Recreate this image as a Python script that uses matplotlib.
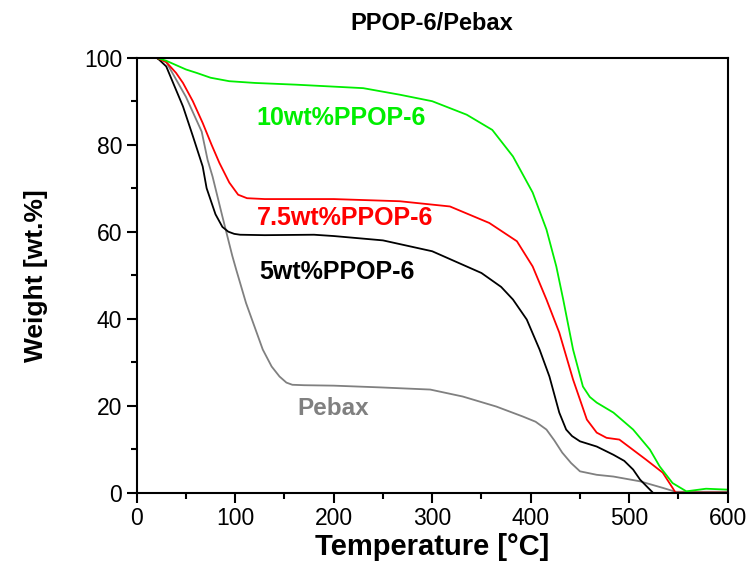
import matplotlib.pyplot as plt
from matplotlib.ticker import MultipleLocator

plt.rcParams['font.family'] = ['Liberation Sans', 'DejaVu Sans']

pebax_t = [20, 30, 42, 50, 60, 66, 72, 77, 87, 97, 101, 111, 128, 137, 145, 152, 158, 170, 200, 247, 298, 331, 365, 392, 405, 416, 424, 432, 441, 450, 467, 484, 511, 534, 547, 570, 600]
pebax_w = [100, 99, 94.2, 91, 86, 83, 76.5, 72.7, 63.5, 54.5, 51.3, 43.6, 32.9, 29, 26.7, 25.3, 24.8, 24.7, 24.6, 24.2, 23.7, 22.1, 19.8, 17.5, 16.3, 14.5, 12, 9.2, 6.8, 4.9, 4.1, 3.7, 2.6, 1.1, 0.2, 0.2, 0.2]

w5_t = [20, 23, 30, 37, 47, 57, 62, 67, 71, 80, 87, 93, 99, 105, 130, 180, 200, 250, 300, 350, 370, 382, 396, 409, 419, 429, 436, 442, 450, 467, 484, 495, 504, 511, 524]
w5_w = [100, 99.5, 98, 94.2, 88.8, 82, 78.5, 75, 70, 64, 61.1, 60, 59.5, 59.3, 59.2, 59.3, 59, 58, 55.5, 50.5, 47.3, 44.4, 39.8, 32.9, 26.7, 18.4, 14.5, 13, 11.8, 10.6, 8.7, 7.3, 5.3, 3, 0]

w75_t = [20, 30, 40, 47, 57, 67, 76, 84, 94, 103, 112, 130, 200, 267, 318, 358, 386, 402, 416, 429, 443, 457, 467, 477, 490, 517, 534, 544, 547, 600]
w75_w = [100, 99, 96.5, 94.2, 90, 85, 80, 75.8, 71.3, 68.5, 67.7, 67.5, 67.5, 67, 65.8, 62, 57.8, 52, 44.4, 36.8, 26, 16.8, 13.8, 12.6, 12.2, 7.6, 4.6, 1.1, 0, 0]

w10_t = [20, 30, 40, 50, 61, 75, 94, 120, 162, 230, 267, 300, 335, 361, 382, 402, 416, 426, 433, 443, 453, 460, 467, 484, 504, 521, 531, 544, 558, 578, 599]
w10_w = [100, 99.3, 98.3, 97.3, 96.5, 95.4, 94.6, 94.2, 93.8, 93, 91.5, 90, 86.9, 83.4, 77.3, 69, 60.5, 52, 44.4, 32.9, 24.4, 22, 20.7, 18.4, 14.5, 9.9, 6, 2.2, 0.3, 0.9, 0.7]

fig, ax = plt.subplots(figsize=(7.51, 5.83), dpi=100)
fig.subplots_adjust(left=0.182, right=0.969, top=0.901, bottom=0.155)

ax.plot(pebax_t, pebax_w, color='#808080', lw=1.3)
ax.plot(w5_t, w5_w, color='black', lw=1.3)
ax.plot(w75_t, w75_w, color='#ff0000', lw=1.3)
ax.plot(w10_t, w10_w, color='#00ee00', lw=1.3)

ax.text(122, 86.2, '10wt%PPOP-6', color='#00ee00', fontsize=18, fontweight='bold', va='center')
ax.text(122, 63.2, '7.5wt%PPOP-6', color='#ff0000', fontsize=18, fontweight='bold', va='center')
ax.text(124, 50.8, '5wt%PPOP-6', color='black', fontsize=18, fontweight='bold', va='center')
ax.text(163, 19.3, 'Pebax', color='#808080', fontsize=17.5, fontweight='bold', va='center')

ax.set_xlim(0, 600)
ax.set_ylim(0, 100)
ax.xaxis.set_major_locator(MultipleLocator(100))
ax.xaxis.set_minor_locator(MultipleLocator(50))
ax.yaxis.set_major_locator(MultipleLocator(20))
ax.yaxis.set_minor_locator(MultipleLocator(10))
ax.tick_params(which='both', direction='out', labelsize=16.5, width=1.5)
ax.tick_params(which='major', length=7)
ax.tick_params(which='minor', length=4)
for s in ax.spines.values():
    s.set_linewidth(1.5)

ax.set_xlabel('Temperature [\u00b0C]', fontsize=21, fontweight='bold', labelpad=2)
ax.set_ylabel('Weight [wt.%]', fontsize=19, fontweight='bold', labelpad=26)
ax.set_title('PPOP-6/Pebax', fontsize=17, fontweight='bold', pad=20)

fig.savefig('out.png', dpi=100)
